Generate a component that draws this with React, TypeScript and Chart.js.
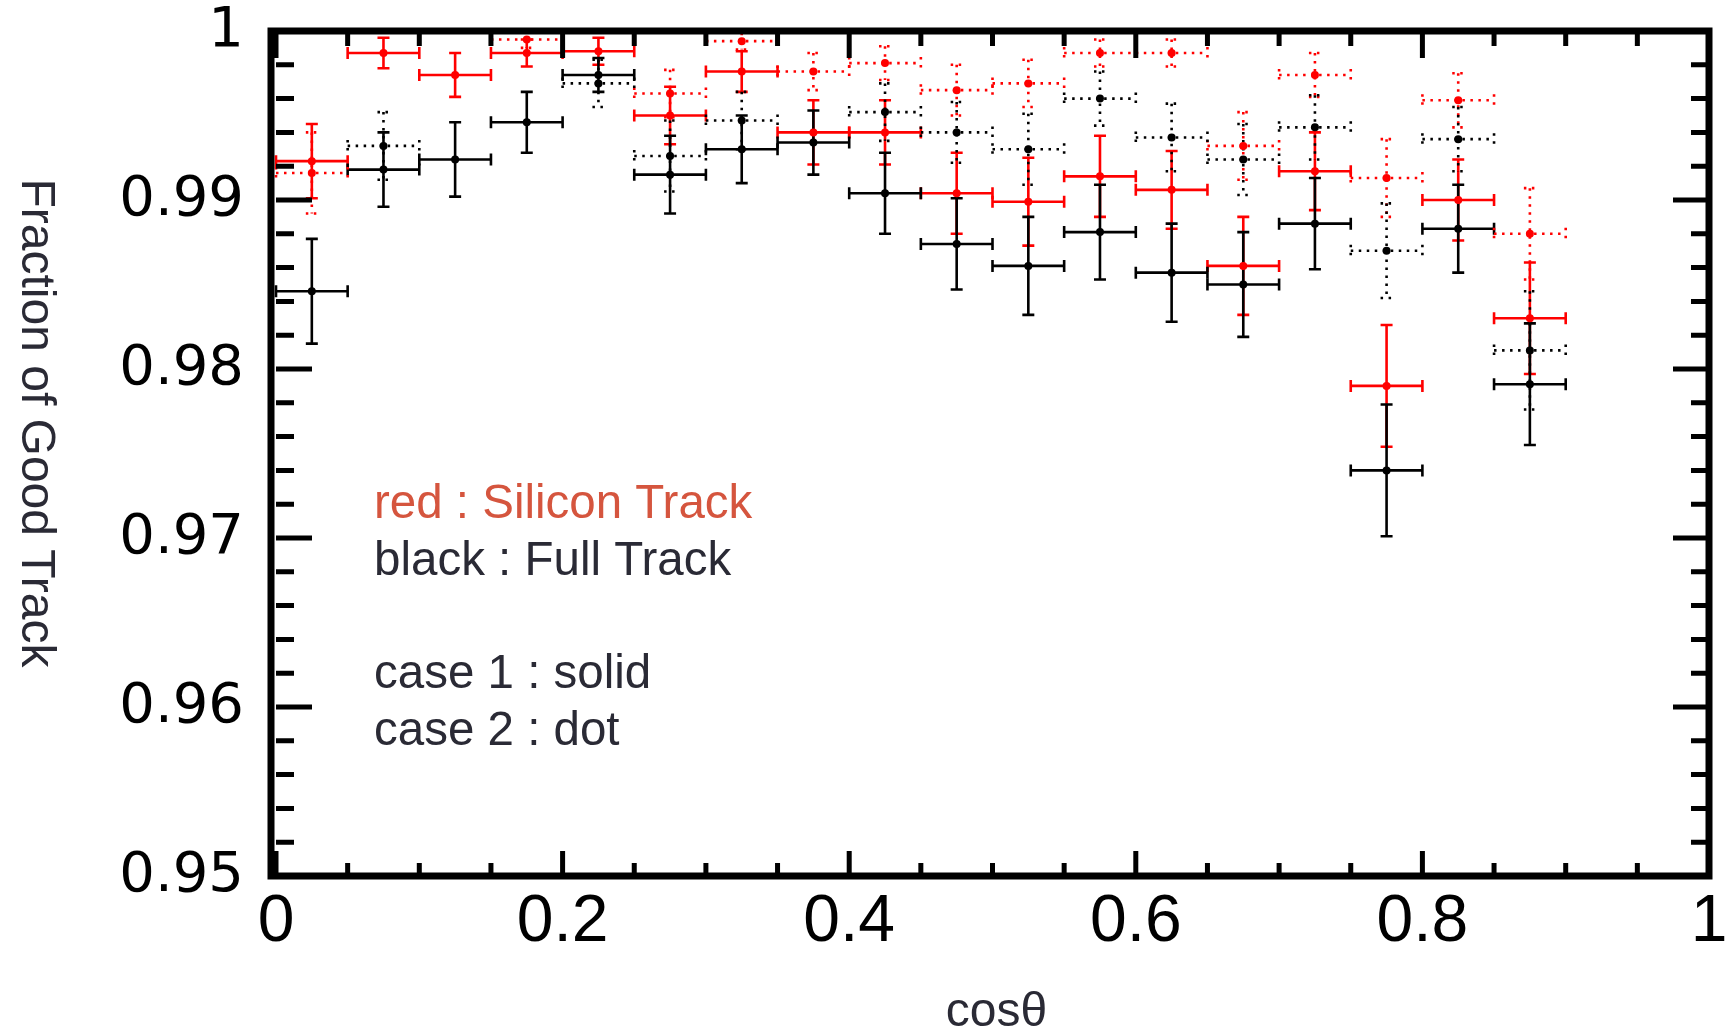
import React, { useEffect, useRef } from 'react';
import { Chart, registerables } from 'chart.js';

Chart.register(...registerables);

// ---- data ----
const binCenters = [0.025, 0.075, 0.125, 0.175, 0.225, 0.275, 0.325, 0.375, 0.425, 0.475, 0.525, 0.575, 0.625, 0.675, 0.725, 0.775, 0.825, 0.875];
const binHalfWidth = 0.025;

const siliconCase1 = [0.9923, 0.9987, 0.9974, 0.9987, 0.9988, 0.9950, 0.9976, 0.9940, 0.9940, 0.9904, 0.9899, 0.9914, 0.9906, 0.9861, 0.9917, 0.9790, 0.9900, 0.9830];
const siliconCase1Err = [0.0022, 0.0009, 0.0013, 0.0008, 0.0008, 0.0017, 0.0012, 0.0019, 0.0019, 0.0024, 0.0026, 0.0024, 0.0023, 0.0029, 0.0023, 0.0036, 0.0024, 0.0033];

const siliconCase2 = [0.9916, null, null, 0.9995, null, 0.9963, 0.9994, 0.9976, 0.9981, 0.9965, 0.9969, 0.9987, 0.9987, 0.9932, 0.9974, 0.9913, 0.9959, 0.9880];
const siliconCase2Err = [0.0024, 0, 0, 0.0005, 0, 0.0014, 0.0005, 0.0011, 0.0010, 0.0015, 0.0014, 0.0008, 0.0008, 0.0020, 0.0013, 0.0023, 0.0016, 0.0027];

const fullCase1 = [0.9846, 0.9918, 0.9924, 0.9946, 0.9974, 0.9915, 0.9930, 0.9934, 0.9904, 0.9874, 0.9861, 0.9881, 0.9857, 0.9850, 0.9886, 0.9740, 0.9883, 0.9791];
const fullCase1Err = [0.0031, 0.0022, 0.0022, 0.0018, 0.0010, 0.0023, 0.0020, 0.0019, 0.0024, 0.0027, 0.0029, 0.0028, 0.0029, 0.0031, 0.0027, 0.0039, 0.0026, 0.0036];

const fullCase2 = [null, 0.9932, null, null, 0.9969, 0.9926, 0.9947, null, 0.9952, 0.9940, 0.9930, 0.9960, 0.9937, 0.9924, 0.9943, 0.9870, 0.9936, 0.9811];
const fullCase2Err = [0, 0.0020, 0, 0, 0.0014, 0.0021, 0.0017, 0, 0.0017, 0.0018, 0.0021, 0.0016, 0.0020, 0.0021, 0.0019, 0.0028, 0.0019, 0.0035];

const yTickValues = [0.95, 0.96, 0.97, 0.98, 0.99, 1];
const xTickValues = [0, 0.2, 0.4, 0.6, 0.8, 1];
const yMinorStep = 0.002;
const xMinorStep = 0.05;

const yTitle = 'Fraction of Good Track';
const xTitle = 'cosθ';
const annotationLines = ['red : Silicon Track', 'black : Full Track', '', 'case 1 : solid', 'case 2 : dot'];

// ---- styles ----
const RED = '#ff0000';
const BLACK = '#000000';
const TEXT_RED = '#d5553e';
const TEXT_DARK = '#2a2a35';
const DOT_DASH = [2.5, 5.5];

function toPoints(values: (number | null)[], errs: number[]) {
  const pts: any[] = [];
  values.forEach((v, i) => {
    if (v != null) pts.push({ x: binCenters[i], y: v, yErr: errs[i] });
  });
  return pts;
}

const errorBarPlugin = {
  id: 'errorBars',
  beforeDatasetsDraw(chart: any) {
    const { ctx } = chart;
    const xs = chart.scales.x;
    const ys = chart.scales.y;
    ctx.save();
    chart.data.datasets.forEach((ds: any) => {
      ctx.strokeStyle = ds.borderColor;
      ctx.lineWidth = 2.6;
      ctx.lineCap = 'butt';
      ctx.setLineDash(ds.dotted ? DOT_DASH : []);
      ds.data.forEach((p: any) => {
        const px = xs.getPixelForValue(p.x);
        const py = ys.getPixelForValue(p.y);
        const pxL = xs.getPixelForValue(p.x - binHalfWidth);
        const pxR = xs.getPixelForValue(p.x + binHalfWidth);
        const pyT = ys.getPixelForValue(p.y + p.yErr);
        const pyB = ys.getPixelForValue(p.y - p.yErr);
        const cap = 6;
        ctx.beginPath();
        ctx.moveTo(pxL, py); ctx.lineTo(pxR, py);
        ctx.moveTo(pxL, py - cap); ctx.lineTo(pxL, py + cap);
        ctx.moveTo(pxR, py - cap); ctx.lineTo(pxR, py + cap);
        ctx.moveTo(px, pyT); ctx.lineTo(px, pyB);
        ctx.moveTo(px - cap, pyT); ctx.lineTo(px + cap, pyT);
        ctx.moveTo(px - cap, pyB); ctx.lineTo(px + cap, pyB);
        ctx.stroke();
      });
    });
    ctx.restore();
  },
};

const framePlugin = {
  id: 'frame',
  afterDraw(chart: any) {
    const { ctx, chartArea: a } = chart;
    const xs = chart.scales.x;
    const ys = chart.scales.y;
    ctx.save();
    ctx.strokeStyle = '#000';
    ctx.lineCap = 'butt';
    ctx.setLineDash([]);
    // y ticks (left & right)
    ctx.lineWidth = 5;
    const yMin = yTickValues[0];
    const yMax = yTickValues[yTickValues.length - 1];
    const nY = Math.round((yMax - yMin) / yMinorStep);
    for (let k = 0; k <= nY; k++) {
      const v = yMin + k * yMinorStep;
      const py = ys.getPixelForValue(v);
      const major = k % 5 === 0;
      const len = major ? 36 : 18;
      ctx.beginPath();
      ctx.moveTo(a.left, py); ctx.lineTo(a.left + len, py);
      ctx.moveTo(a.right, py); ctx.lineTo(a.right - len, py);
      ctx.stroke();
    }
    // x ticks (bottom & top)
    ctx.lineWidth = 5;
    const xMin = xTickValues[0];
    const xMax = xTickValues[xTickValues.length - 1];
    const nX = Math.round((xMax - xMin) / xMinorStep);
    for (let k = 0; k <= nX; k++) {
      const v = xMin + k * xMinorStep;
      const px = xs.getPixelForValue(v);
      const major = k % 4 === 0;
      ctx.beginPath();
      ctx.moveTo(px, a.bottom); ctx.lineTo(px, a.bottom - (major ? 25 : 13));
      ctx.moveTo(px, a.top); ctx.lineTo(px, a.top + (major ? 27 : 15));
      ctx.stroke();
    }
    // frame
    ctx.lineWidth = 7;
    ctx.strokeRect(a.left - 5, a.top, a.right - a.left + 5, a.bottom - a.top);

    // axis titles
    ctx.fillStyle = TEXT_DARK;
    ctx.font = '48px "Liberation Sans", Arial, sans-serif';
    ctx.textAlign = 'center';
    ctx.textBaseline = 'alphabetic';
    ctx.fillText(xTitle, (a.left + a.right) / 2 + 4, 1026);

    ctx.save();
    ctx.translate(35, 423);
    ctx.rotate(Math.PI / 2);
    ctx.textBaseline = 'middle';
    ctx.fillText(yTitle, 0, 0);
    ctx.restore();

    // annotation text
    ctx.font = '47.5px "Liberation Sans", Arial, sans-serif';
    ctx.textAlign = 'left';
    ctx.textBaseline = 'alphabetic';
    annotationLines.forEach((line, i) => {
      if (!line) return;
      ctx.fillStyle = i === 0 ? TEXT_RED : TEXT_DARK;
      ctx.fillText(line, 374, 518 + i * 56.75);
    });
    ctx.restore();
  },
};

function fmt(v: number, d: number) {
  return String(Number(v.toFixed(d)));
}

export default function App() {
  const canvasRef = useRef<HTMLCanvasElement | null>(null);

  useEffect(() => {
    document.body.style.margin = '0';
    document.body.style.background = '#ffffff';
    const canvas = canvasRef.current;
    if (!canvas) return;

    const datasets = [
      { label: 'Silicon case 1', data: toPoints(siliconCase1, siliconCase1Err), borderColor: RED, backgroundColor: RED, dotted: false },
      { label: 'Full case 1', data: toPoints(fullCase1, fullCase1Err), borderColor: BLACK, backgroundColor: BLACK, dotted: false },
      { label: 'Silicon case 2', data: toPoints(siliconCase2, siliconCase2Err), borderColor: RED, backgroundColor: RED, dotted: true },
      { label: 'Full case 2', data: toPoints(fullCase2, fullCase2Err), borderColor: BLACK, backgroundColor: BLACK, dotted: true },
    ].map((d) => ({ ...d, pointRadius: 4, pointBorderWidth: 0, showLine: false }));

    const chart = new Chart(canvas, {
      type: 'scatter',
      data: { datasets: datasets as any },
      options: {
        animation: false,
        responsive: false,
        devicePixelRatio: 1,
        layout: { padding: { left: 0, right: 16, top: 31, bottom: 0 } },
        plugins: { legend: { display: false }, tooltip: { enabled: false } },
        scales: {
          x: {
            type: 'linear',
            min: xTickValues[0],
            max: xTickValues[xTickValues.length - 1],
            grid: { display: false, drawTicks: false },
            border: { display: false },
            afterBuildTicks: (s: any) => { s.ticks = xTickValues.map((v) => ({ value: v })); },
            afterFit: (s: any) => { s.height = 155; s.paddingLeft = 0; s.paddingRight = 0; },
            ticks: {
              padding: 7,
              color: '#000',
              maxRotation: 0,
              autoSkip: false,
              font: { family: '"Liberation Sans", Arial, sans-serif', size: 66 },
              callback: (v: any) => fmt(Number(v), 1),
            },
          },
          y: {
            type: 'linear',
            min: yTickValues[0],
            max: yTickValues[yTickValues.length - 1],
            grid: { display: false, drawTicks: false },
            border: { display: false },
            afterBuildTicks: (s: any) => { s.ticks = yTickValues.map((v) => ({ value: v })); },
            afterFit: (s: any) => { s.width = 276; s.paddingTop = 0; s.paddingBottom = 0; },
            ticks: {
              padding: 32,
              color: '#000',
              autoSkip: false,
              font: { family: '"DejaVu Sans", sans-serif', size: 56 },
              callback: (v: any) => fmt(Number(v), 2),
            },
          },
        },
      } as any,
      plugins: [errorBarPlugin, framePlugin],
    });

    return () => chart.destroy();
  }, []);

  return <canvas ref={canvasRef} width={1725} height={1031} style={{ display: 'block' }} />;
}
